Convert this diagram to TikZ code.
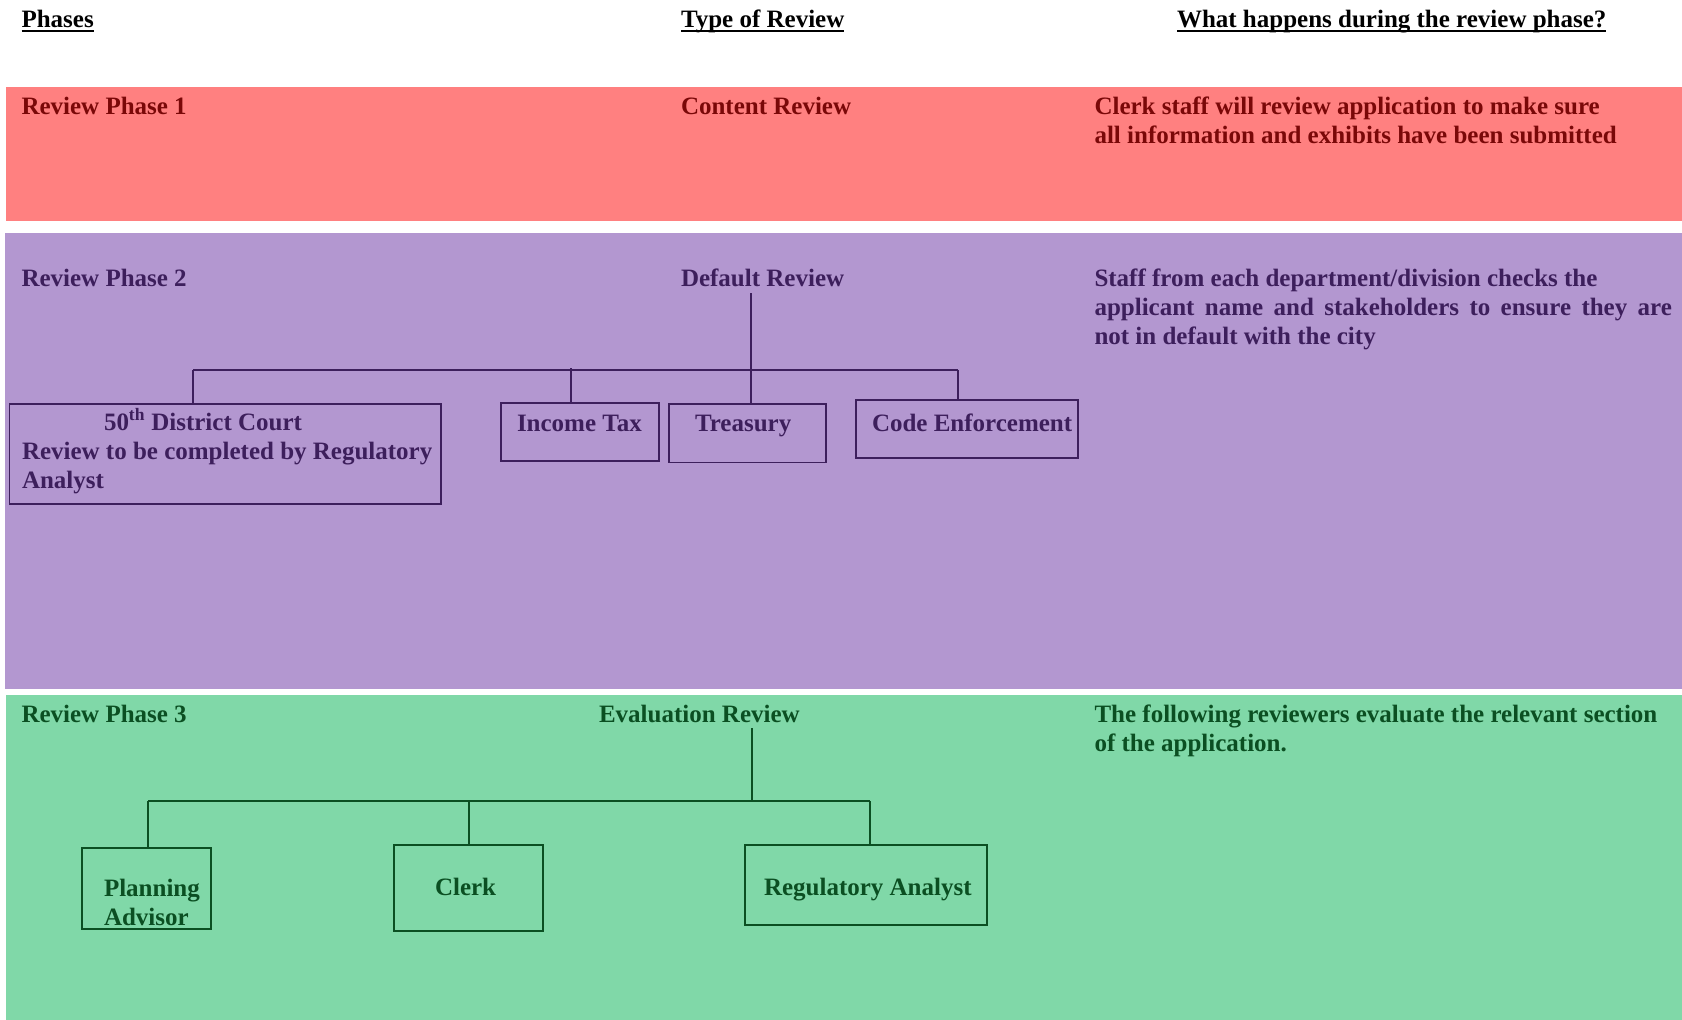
\documentclass[tikz,border=0pt]{standalone}
\usepackage{fontspec}
\setmainfont{Liberation Serif}
\definecolor{redband}{HTML}{FF8080}
\definecolor{redtext}{HTML}{7A0808}
\definecolor{purpband}{HTML}{B397D0}
\definecolor{purptext}{HTML}{3D1F5C}
\definecolor{greenband}{HTML}{80D8A8}
\definecolor{greentext}{HTML}{0B4F22}
\begin{document}
\begin{tikzpicture}[x=1pt,y=-1pt,
  txt/.style={inner sep=0pt, outer sep=0pt, anchor=base west,
    font=\bfseries\fontsize{25}{29}\selectfont},
  box/.style={draw, line width=1.5pt, inner sep=0pt, outer sep=0pt, anchor=north west},
  conn/.style={line width=1.5pt},
  uline/.style={line width=2pt, black}]
\useasboundingbox (0,0) rectangle (1682,1020);
\fill[white] (0,0) rectangle (1682,1020);
% bands
\fill[redband] (6,87) rectangle (1682,221);
\fill[purpband] (5,233) rectangle (1682,689);
\fill[greenband] (6,695) rectangle (1682,1020);
% headers
\node[txt] (hph) at (21.5,27) {Phases};
\node[txt] (hty) at (681,27) {Type of Review};
\node[txt] (hwh) at (1177,27) {What happens during the review phase?};
\foreach \n in {hph,hty,hwh}{
  \draw[uline] ([yshift=-4pt]\n.base west) -- ([yshift=-4pt]\n.base east);
}
% phase 1
\begin{scope}[every node/.append style={text=redtext}]
\node[txt] (p1) at (21.5,114) {Review Phase 1};
\node[txt] (cr) at (681,114) {Content Review};
\node[txt] (d1) at (1094.5,114) {\vtop{\hbox{Clerk staff will review application to make sure}\hbox{all information and exhibits have been submitted}}};
\end{scope}
% phase 2
\begin{scope}[purptext, every node/.append style={text=purptext}]
\node[txt] (p2) at (21.5,286) {Review Phase 2};
\node[txt] (dr) at (681,286) {Default Review};
\node[txt] (d2) at (1094.5,286) {\vtop{\hbox{Staff from each department/division checks the}\hbox to 577.5pt{applicant name and stakeholders to ensure they are}\hbox{not in default with the city}}};
\node[box, minimum width=431.7pt, minimum height=100pt] (dc) at (9.3,404) {};
\node[txt] (dct) at (22,430) {\vtop{\hbox{\kern82pt 50\textsuperscript{th} District Court}\hbox{Review to be completed by Regulatory}\hbox{Analyst}}};
\node[box, minimum width=158pt, minimum height=58pt] (inc) at (501,403) {};
\node[txt] (inct) at (517,431) {Income Tax};
\node[box, minimum width=157pt, minimum height=58.5pt] (trs) at (669,404) {};
\node[txt] (trst) at (695,431) {Treasury};
\node[box, minimum width=222pt, minimum height=58pt] (ce) at (856,400) {};
\node[txt] (cet) at (872,431) {Code Enforcement};
\coordinate (t2) at (751,293);
\coordinate (b2L) at (193,370);
\coordinate (b2R) at (958,370);
\coordinate (c2inc) at (571,368);
\draw[conn] (t2) -- (t2 |- trs.north);
\draw[conn] (b2L) -- (b2R);
\draw[conn] (b2L) -- (b2L |- dc.north);
\draw[conn] (c2inc) -- (c2inc |- inc.north);
\draw[conn] (b2R) -- (b2R |- ce.north);
\end{scope}
% phase 3
\begin{scope}[greentext, every node/.append style={text=greentext}]
\node[txt] (p3) at (21.5,722) {Review Phase 3};
\node[txt] (er) at (599,722) {Evaluation Review};
\node[txt] (d3) at (1094.5,722) {\vtop{\hbox{The following reviewers evaluate the relevant section}\hbox{of the application.}}};
\node[box, minimum width=129pt, minimum height=81pt] (pa) at (82,848) {};
\node[txt] (pat) at (104,896) {\vtop{\hbox{Planning}\hbox{Advisor}}};
\node[box, minimum width=149pt, minimum height=86pt] (clk) at (394,845) {};
\node[txt] (clkt) at (435,895) {Clerk};
\node[box, minimum width=242pt, minimum height=80pt] (ra) at (745,845) {};
\node[txt] (rat) at (764,895) {Regulatory Analyst};
\coordinate (t3) at (752,728);
\coordinate (b3L) at (148,801);
\coordinate (b3C) at (469,801);
\coordinate (b3R) at (870,801);
\draw[conn] (t3) -- (t3 |- b3L);
\draw[conn] (b3L) -- (b3R);
\draw[conn] (b3L) -- (b3L |- pa.north);
\draw[conn] (b3C) -- (b3C |- clk.north);
\draw[conn] (b3R) -- (b3R |- ra.north);
\end{scope}
\end{tikzpicture}
\end{document}
